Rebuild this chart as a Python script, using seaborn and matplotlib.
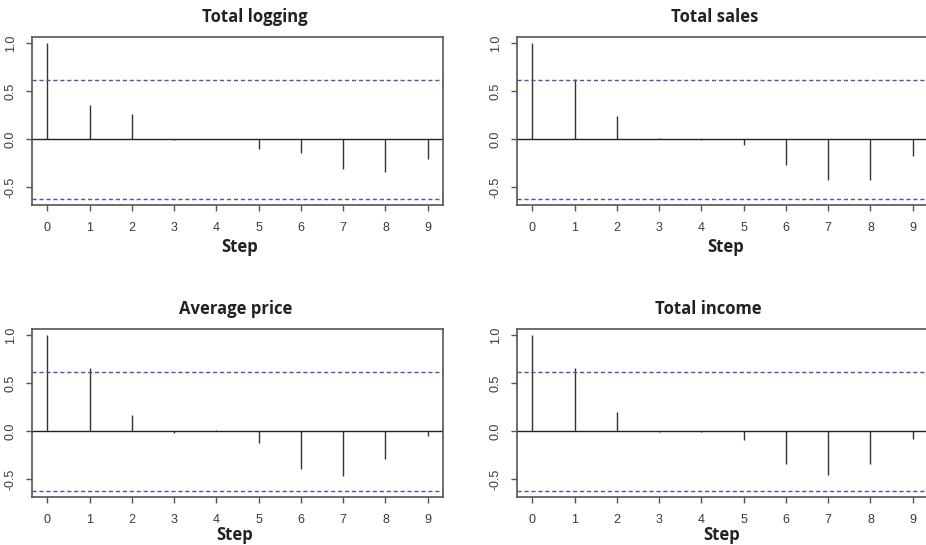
import numpy as np
import pandas as pd
import matplotlib
matplotlib.use("Agg")
import matplotlib.pyplot as plt
import seaborn as sns

# ---- data ----
lags = [0, 1, 2, 3, 4, 5, 6, 7, 8, 9]
titles = ["Total logging", "Total sales", "Average price", "Total income"]
acf_logging = [1.0, 0.36, 0.26, -0.01, 0.0, -0.10, -0.145, -0.305, -0.345, -0.21]
acf_sales = [1.0, 0.625, 0.24, 0.01, -0.01, -0.065, -0.27, -0.425, -0.425, -0.17]
acf_price = [1.0, 0.66, 0.17, -0.015, 0.01, -0.12, -0.39, -0.47, -0.285, -0.05]
acf_income = [1.0, 0.655, 0.20, -0.005, -0.005, -0.095, -0.34, -0.46, -0.34, -0.085]
conf_limit = 0.62
y_ticks = [-0.5, 0.0, 0.5, 1.0]
y_ticklabels = ["-0.5", "0.0", "0.5", "1.0"]

series = [acf_logging, acf_sales, acf_price, acf_income]

sns.set_style("white")
plt.rcParams['font.family'] = ['Liberation Sans', 'DejaVu Sans']

W, H = 926, 545
fig = plt.figure(figsize=(W / 100, H / 100), dpi=100)

# axes boxes in pixel coords: (left, top, right, bottom)
boxes = [(32, 37, 443, 205), (517, 37, 928, 205),
         (32, 329, 443, 497), (517, 329, 928, 497)]
title_pos = [(255, 17), (715, 17), (236, 309), (708, 309)]
step_pos = [(240, 247), (726, 247), (235, 535), (722, 535)]

box_col = "#555555"
tick_col = "#3a3a3a"
ci_col = "#5050b0"

for i, (vals, ttl) in enumerate(zip(series, titles)):
    l, t, r, b = boxes[i]
    ax = fig.add_axes([l / W, 1 - b / H, (r - l) / W, (b - t) / H])
    df = pd.DataFrame({"lag": lags, "acf": vals})
    ax.vlines(df["lag"], 0, df["acf"], color="#333333", lw=1.0)
    ax.axhline(0, color="#222222", lw=1.0)
    ax.axhline(conf_limit, color=ci_col, lw=1.0, linestyle=(0, (3, 2)))
    ax.axhline(-conf_limit, color=ci_col, lw=1.0, linestyle=(0, (3, 2)))
    ax.set_xlim(-0.36, 9.36)
    ax.set_ylim(-0.685, 1.065)
    ax.set_xticks(lags)
    ax.set_xticklabels([str(v) for v in lags], fontsize=9, color=tick_col)
    ax.set_yticks(y_ticks)
    ax.set_yticklabels(y_ticklabels, fontsize=9, color=tick_col,
                       rotation=90, va="center")
    ax.tick_params(axis="x", direction="out", length=4, width=1,
                   color=box_col, bottom=True, pad=8)
    ax.tick_params(axis="y", direction="out", length=4, width=1,
                   color=box_col, left=True, pad=7)
    for sp in ax.spines.values():
        sp.set_color(box_col)
        sp.set_linewidth(1.2)
        sp.set_visible(True)
    ax.set_xlabel("")
    ax.set_ylabel("")
    fig.text(title_pos[i][0] / W, 1 - title_pos[i][1] / H, ttl,
             ha="center", va="center", fontsize=12, fontweight="bold",
             family=["Open Sans", "DejaVu Sans"], color="#222222")
    fig.text(step_pos[i][0] / W, 1 - step_pos[i][1] / H, "Step",
             ha="center", va="center", fontsize=12, fontweight="bold",
             family=["Open Sans", "DejaVu Sans"], color="#222222")

fig.savefig("out.png", dpi=100)
